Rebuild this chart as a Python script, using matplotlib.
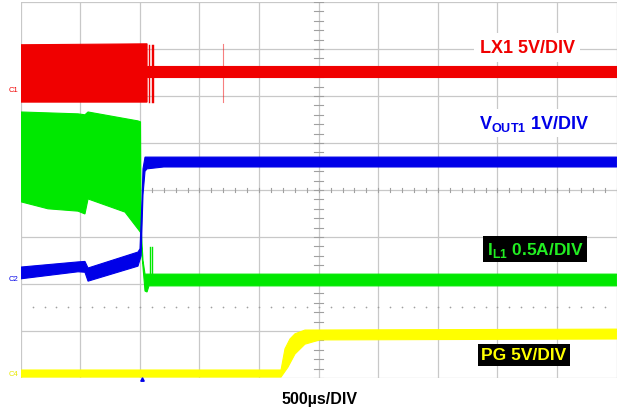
import matplotlib
matplotlib.use("Agg")
import matplotlib.pyplot as plt
import numpy as np

plt.rcParams.update({
    "font.family": "Liberation Sans",
    "mathtext.fontset": "custom",
    "mathtext.rm": "Liberation Sans",
    "mathtext.bf": "Liberation Sans:bold",
})

# ---- scope traces (time in us, level in divisions) ----
# LX1 (red): switching block, then a narrow band
lx_block_t = [0, 1060]
lx_block_hi = [7.09, 7.11]
lx_block_lo = [5.87, 5.87]
lx_band_t = [1060, 5000]
lx_band_hi = [6.64, 6.64]
lx_band_lo = [6.40, 6.40]
lx_spike_t = [1076, 1101, 1110]
lx_glitch_t = 1697

# IL1 (green): envelope of the ripple band
il_hi_t = [0, 481, 539, 565, 984, 1005, 1010, 1026, 1043, 5000]
il_hi_v = [5.66, 5.62, 5.60, 5.66, 5.47, 5.45, 3.20, 2.50, 2.21, 2.21]
il_lo_t = [0, 229, 481, 539, 565, 875, 984, 1005, 1018, 1043, 1060, 1076, 5000]
il_lo_v = [3.75, 3.60, 3.55, 3.49, 3.81, 3.53, 3.17, 3.10, 2.60, 1.85, 1.83, 1.96, 1.96]
il_spike_t = [1085, 1101]
il_spike_top = 2.79

# VOUT1 (blue)
vo_hi_t = [0, 481, 539, 565, 984, 1001, 1018, 1026, 1043, 5000]
vo_hi_v = [2.36, 2.47, 2.48, 2.34, 2.68, 2.75, 3.80, 4.45, 4.70, 4.70]
vo_lo_t = [0, 481, 539, 565, 984, 1010, 1026, 1043, 1060, 1200, 5000]
vo_lo_v = [2.11, 2.26, 2.25, 2.06, 2.38, 2.60, 3.90, 4.40, 4.45, 4.49, 4.49]

# PG (yellow)
pg_hi_t = [0, 2184, 2217, 2259, 2301, 2385, 5000]
pg_hi_v = [0.17, 0.17, 0.62, 0.83, 0.94, 1.02, 1.04]
pg_lo_t = [0, 2184, 2242, 2301, 2385, 2510, 5000]
pg_lo_v = [0.02, 0.02, 0.23, 0.51, 0.72, 0.81, 0.83]

RED = "#f00000"
GREEN = "#00e800"
BLUE = "#0000e8"
YELLOW = "#ffff00"
GRID = "#c8c8c8"


def band(ax, t_hi, v_hi, t_lo, v_lo, color, z):
    xs = np.r_[t_hi, t_lo[::-1]]
    ys = np.r_[v_hi, v_lo[::-1]]
    ax.fill(xs, ys, color=color, lw=0.8, ec=color, zorder=z)


fig = plt.figure(figsize=(6.18, 4.14), dpi=100)
ax = fig.add_axes([20.7 / 618, 35 / 414, 596 / 618, 376 / 414])
ax.set_xlim(0, 5000)
ax.set_ylim(0, 8)
ax.axis("off")

# graticule
for t in np.arange(0, 5001, 500):
    ax.plot([t, t], [0, 8], color=GRID, lw=0.9, zorder=1)
for v in range(9):
    ax.plot([0, 5000], [v, v], color=GRID, lw=0.9, zorder=1)
# centre axes with minor ticks
for t in np.arange(0, 5001, 100):
    ax.plot([t, t], [3.95, 4.05], color="#a0a0a0", lw=0.8, zorder=1)
for v in np.arange(0, 8.01, 0.2):
    ax.plot([2460, 2540], [v, v], color="#a0a0a0", lw=0.8, zorder=1)
# dotted reference row
dots_t = np.arange(100, 5000, 100)
ax.scatter(dots_t, np.full(len(dots_t), 1.51), s=1.5, color="#a0a0a0",
           linewidths=0, zorder=1)

# traces
band(ax, il_hi_t, il_hi_v, il_lo_t, il_lo_v, GREEN, 3)
for t in il_spike_t:
    ax.plot([t, t], [2.0, il_spike_top], color=GREEN, lw=1.0, zorder=3)
band(ax, vo_hi_t, vo_hi_v, vo_lo_t, vo_lo_v, BLUE, 4)
band(ax, lx_block_t, lx_block_hi, lx_block_t, lx_block_lo, RED, 5)
band(ax, lx_band_t, lx_band_hi, lx_band_t, lx_band_lo, RED, 5)
for t in lx_spike_t:
    ax.plot([t, t], [5.88, 7.08], color=RED, lw=1.0, zorder=5)
ax.plot([lx_glitch_t, lx_glitch_t], [5.87, 7.1], color=RED, lw=0.8,
        alpha=0.5, zorder=5)
band(ax, pg_hi_t, pg_hi_v, pg_lo_t, pg_lo_v, YELLOW, 6)

# channel ground markers
ax.text(-60, 6.13, "C1", color=RED, fontsize=5.5, ha="center", va="center",
        clip_on=False)
ax.text(-60, 2.11, "C2", color=BLUE, fontsize=5.5, ha="center", va="center",
        clip_on=False)
ax.text(-60, 0.09, "C4", color="#e8e800", fontsize=5.5, ha="center",
        va="center", clip_on=False)
ax.plot([1018], [-0.02], marker="^", ms=2.5, color=BLUE, clip_on=False,
        zorder=7)

# channel labels
ax.text(4250, 7.03, "LX1 5V/DIV", color=RED, fontsize=13, fontweight="bold",
        ha="center", va="center", zorder=8,
        bbox=dict(facecolor="white", edgecolor="none", pad=4))
ax.text(4310, 5.42, r"V$_{\mathbf{OUT1}}$ 1V/DIV", color=BLUE, fontsize=13,
        fontweight="bold", ha="center", va="center", zorder=8,
        bbox=dict(facecolor="white", edgecolor="none", pad=3))
ax.text(4315, 2.74, r"I$_{\mathbf{L1}}$ 0.5A/DIV", color="#22ee22",
        fontsize=12.5, fontweight="bold", ha="center", va="center", zorder=8,
        bbox=dict(facecolor="black", edgecolor="none", pad=2.5))
ax.text(4222, 0.49, "PG 5V/DIV", color=YELLOW, fontsize=12.5,
        fontweight="bold", ha="center", va="center", zorder=8,
        bbox=dict(facecolor="black", edgecolor="none", pad=2.5))

fig.text(320 / 618, 1 - 400 / 414, "500µs/DIV", fontsize=11.5,
         fontweight="bold", ha="center", va="center")

fig.savefig("out.png", dpi=100)
